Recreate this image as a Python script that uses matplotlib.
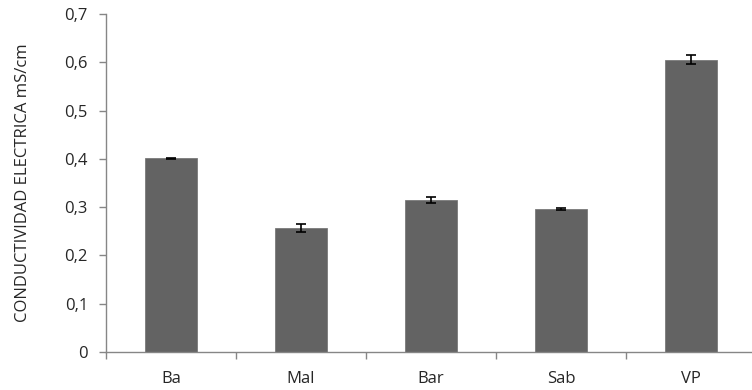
import matplotlib
matplotlib.use("Agg")
import matplotlib.pyplot as plt
import matplotlib.ticker as ticker
import numpy as np

# Conductividad eléctrica media por muestra (mS/cm) y su error
categories = ["Ba", "Mal", "Bar", "Sab", "VP"]
values = [0.401, 0.257, 0.315, 0.297, 0.605]
errors = [0.001, 0.0075, 0.006, 0.002, 0.0095]
y_ticks = [0, 0.1, 0.2, 0.3, 0.4, 0.5, 0.6, 0.7]

plt.rcParams["font.family"] = ["Open Sans", "DejaVu Sans"]

fig = plt.figure(figsize=(7.52, 3.90), dpi=100)
ax = fig.add_axes([106 / 752, 1 - 352 / 390, 650 / 752, 338 / 390])

x = np.arange(len(categories))
ax.bar(x, values, width=0.4, color="#636363", edgecolor="#7a7a7a", linewidth=0.6, zorder=2)
ax.errorbar(x, values, yerr=errors, fmt="none", ecolor="black",
            elinewidth=1.2, capsize=3.3, capthick=1.2, zorder=3)

ax.set_xlim(-0.5, len(categories) - 0.5)
ax.set_ylim(0, 0.7)
ax.set_yticks(y_ticks)
ax.yaxis.set_major_formatter(ticker.FuncFormatter(
    lambda v, _: "0" if v == 0 else f"{v:.1f}".replace(".", ",")))

# category labels centred, tick marks on the boundaries
ax.set_xticks(x)
ax.set_xticklabels(categories)
ax.set_xticks(np.arange(len(categories) + 1) - 0.5, minor=True)
ax.tick_params(axis="x", which="major", length=0, pad=14, labelsize=12, labelcolor="#262626")
ax.tick_params(axis="x", which="minor", length=5, width=1, color="#868686", direction="out")
ax.tick_params(axis="y", length=5, width=1, color="#868686", direction="out",
               pad=8, labelsize=12, labelcolor="#262626")

for side in ("top", "right"):
    ax.spines[side].set_visible(False)
for side in ("left", "bottom"):
    ax.spines[side].set_color("#868686")
    ax.spines[side].set_linewidth(1)

ax.set_ylabel("CONDUCTIVIDAD ELECTRICA mS/cm", fontsize=12, color="#262626", labelpad=24)

fig.savefig("out.png", dpi=100, facecolor="white")
